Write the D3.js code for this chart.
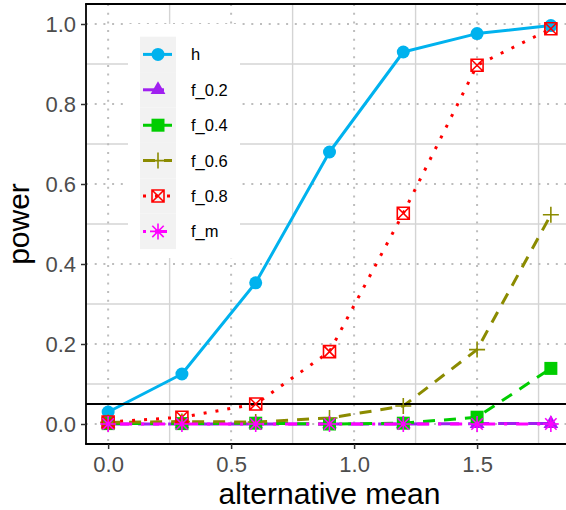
<!DOCTYPE html>
<html>
<head>
<meta charset="utf-8">
<script src="https://cdn.jsdelivr.net/npm/d3@7"></script>
<style>
  html, body { margin: 0; padding: 0; background: #fff; }
  svg { display: block; font-family: "Liberation Sans", Arial, sans-serif; }
</style>
</head>
<body>
<svg id="chart" width="566" height="510"></svg>
<script>
// ---- data ----
const xValues = [0, 0.3, 0.6, 0.9, 1.2, 1.5, 1.8];
const seriesNames = ["h", "f_0.2", "f_0.4", "f_0.6", "f_0.8", "f_m"];
const hValues   = [0.030, 0.125, 0.353, 0.680, 0.930, 0.976, 0.996];
const f02Values = [0.000, 0.000, 0.000, 0.000, 0.000, 0.001, 0.001];
const f04Values = [0.001, 0.001, 0.002, 0.000, 0.002, 0.017, 0.139];
const f06Values = [0.004, 0.006, 0.005, 0.015, 0.045, 0.186, 0.523];
const f08Values = [0.005, 0.017, 0.050, 0.181, 0.527, 0.897, 0.988];
const fmValues  = [0.000, 0.000, 0.000, 0.000, 0.000, 0.000, 0.000];
const xTicks = [0, 0.5, 1.0, 1.5];
const yTicks = [0, 0.2, 0.4, 0.6, 0.8, 1.0];
const xMinorTicks = [0.25, 0.75, 1.25, 1.75];
const yMinorTicks = [0.1, 0.3, 0.5, 0.7, 0.9];
const refLine = 0.05;
const xTitle = "alternative mean";
const yTitle = "power";

const allValues = [hValues, f02Values, f04Values, f06Values, f08Values, fmValues];

// ---- styles ----
const styles = {
  "h":     { color: "#00B2EE", dash: null,          shape: "circle" },
  "f_0.2": { color: "#A020F0", dash: "21,9",        shape: "triangle" },
  "f_0.4": { color: "#00CD00", dash: "12,9",        shape: "square" },
  "f_0.6": { color: "#8B8B00", dash: "12,9",        shape: "plus" },
  "f_0.8": { color: "#FF0000", dash: "3,9",         shape: "squarecross" },
  "f_m":   { color: "#FF00FF", dash: "3,9,12,9",    shape: "asterisk" }
};

const svg = d3.select("#chart");
const panel = { left: 86, top: 4, bottom: 444, right: 573 };

const x = d3.scaleLinear().domain([-0.09, 1.89]).range([panel.left, panel.right]);
const y = d3.scaleLinear().domain([-0.05, 1.05]).range([panel.bottom, panel.top]);

svg.append("defs").append("clipPath").attr("id", "clip")
  .append("rect").attr("x", panel.left).attr("y", panel.top)
  .attr("width", panel.right - panel.left).attr("height", panel.bottom - panel.top);

const g = svg.append("g");

// minor grid (solid)
g.selectAll(".vminor").data(xMinorTicks).enter().append("line")
  .attr("x1", d => x(d)).attr("x2", d => x(d))
  .attr("y1", panel.top).attr("y2", panel.bottom)
  .attr("stroke", "#d4d4d4").attr("stroke-width", 1.4);
g.selectAll(".hminor").data(yMinorTicks).enter().append("line")
  .attr("y1", d => y(d)).attr("y2", d => y(d))
  .attr("x1", panel.left).attr("x2", panel.right)
  .attr("stroke", "#d4d4d4").attr("stroke-width", 1.4);
// major grid (dotted)
g.selectAll(".vmajor").data(xTicks).enter().append("line")
  .attr("x1", d => x(d)).attr("x2", d => x(d))
  .attr("y1", panel.top).attr("y2", panel.bottom)
  .attr("stroke", "#bdbdbd").attr("stroke-width", 2).attr("stroke-dasharray", "2,6.7");
g.selectAll(".hmajor").data(yTicks).enter().append("line")
  .attr("y1", d => y(d)).attr("y2", d => y(d))
  .attr("x1", panel.left).attr("x2", panel.right)
  .attr("stroke", "#bdbdbd").attr("stroke-width", 2).attr("stroke-dasharray", "2,6.7");

// legend background (covers grid)
const legend = { x: 128, y: 24, w: 112, h: 234, keyX: 140, keyY: 36.7, keyW: 36, keyH: 35.4 };
g.append("rect").attr("x", legend.x).attr("y", legend.y).attr("width", legend.w).attr("height", legend.h)
  .attr("fill", "#ffffff");

const data = seriesNames.map((name, i) => ({
  name, values: xValues.map((xv, j) => ({ x: xv, y: allValues[i][j] }))
}));

const plot = svg.append("g").attr("clip-path", "url(#clip)");
const line = d3.line().x(d => x(d.x)).y(d => y(d.y));

data.forEach(s => {
  const st = styles[s.name];
  plot.append("path").datum(s.values)
    .attr("d", line).attr("fill", "none")
    .attr("stroke", st.color).attr("stroke-width", 3)
    .attr("stroke-dasharray", st.dash)
    .attr("stroke-linecap", "butt").attr("stroke-linejoin", "round");
});

// reference line
plot.append("line")
  .attr("x1", panel.left).attr("x2", panel.right)
  .attr("y1", y(refLine)).attr("y2", y(refLine))
  .attr("stroke", "#000").attr("stroke-width", 2);

function drawShape(sel, shape, color) {
  if (shape === "circle") {
    sel.append("circle").attr("r", 6.5).attr("fill", color);
  } else if (shape === "triangle") {
    sel.append("path").attr("d", d3.symbol(d3.symbolTriangle, 95)()).attr("fill", color);
  } else if (shape === "square") {
    sel.append("rect").attr("x", -6.5).attr("y", -6.5).attr("width", 13).attr("height", 13).attr("fill", color);
  } else if (shape === "plus") {
    sel.append("path").attr("d", "M-8,0H8M0,-8V8").attr("stroke", color).attr("stroke-width", 1.6).attr("fill", "none");
  } else if (shape === "squarecross") {
    sel.append("path").attr("d", "M-6,-6H6V6H-6Z M-6,-6L6,6 M6,-6L-6,6")
      .attr("stroke", color).attr("stroke-width", 1.6).attr("fill", "none");
  } else if (shape === "asterisk") {
    sel.append("path").attr("d", "M-8,0H8M0,-8V8M-5.7,-5.7L5.7,5.7M5.7,-5.7L-5.7,5.7")
      .attr("stroke", color).attr("stroke-width", 1.6).attr("fill", "none");
  }
}

data.forEach(s => {
  const st = styles[s.name];
  s.values.forEach(p => {
    const pg = svg.append("g").attr("transform", `translate(${x(p.x)},${y(p.y)})`);
    drawShape(pg, st.shape, st.color);
  });
});

// panel border: top, left, bottom
svg.append("line").attr("x1", panel.left).attr("x2", panel.left).attr("y1", panel.top).attr("y2", panel.bottom)
  .attr("stroke", "#000").attr("stroke-width", 1.8);
svg.append("line").attr("x1", panel.left - 0.9).attr("x2", panel.right).attr("y1", panel.bottom).attr("y2", panel.bottom)
  .attr("stroke", "#000").attr("stroke-width", 1.8);
svg.append("line").attr("x1", panel.left - 0.9).attr("x2", panel.right).attr("y1", panel.top).attr("y2", panel.top)
  .attr("stroke", "#000").attr("stroke-width", 1.8);

// axes
const xAxis = d3.axisBottom(x).tickValues(xTicks).tickFormat(d3.format(".1f")).tickSize(5).tickPadding(7);
const yAxis = d3.axisLeft(y).tickValues(yTicks).tickFormat(d3.format(".1f")).tickSize(5).tickPadding(5);

const xa = svg.append("g").attr("transform", `translate(0,${panel.bottom})`).call(xAxis);
const ya = svg.append("g").attr("transform", `translate(${panel.left},0)`).call(yAxis);
[xa, ya].forEach(a => {
  a.select(".domain").remove();
  a.selectAll(".tick line").attr("stroke", "#333").attr("stroke-width", 1.5);
  a.selectAll(".tick text").attr("fill", "#4D4D4D").attr("font-size", 22)
    .attr("font-family", "'Liberation Sans', Arial, sans-serif");
});

// titles
svg.append("text").attr("x", (panel.left + panel.right) / 2).attr("y", 504)
  .attr("text-anchor", "middle").attr("font-size", 30).attr("fill", "#000").text(xTitle);
svg.append("text").attr("transform", `translate(29,${(panel.top + panel.bottom) / 2}) rotate(-90)`)
  .attr("text-anchor", "middle").attr("font-size", 30).attr("fill", "#000").text(yTitle);

// legend keys
seriesNames.forEach((name, i) => {
  const st = styles[name];
  const ky = legend.keyY + i * legend.keyH;
  svg.append("rect").attr("x", legend.keyX).attr("y", ky).attr("width", legend.keyW).attr("height", legend.keyH)
    .attr("fill", "#F2F2F2");
  const cy = ky + legend.keyH / 2;
  svg.append("line").attr("x1", legend.keyX + 3).attr("x2", legend.keyX + legend.keyW - 4)
    .attr("y1", cy).attr("y2", cy)
    .attr("stroke", st.color).attr("stroke-width", 3).attr("stroke-dasharray", st.dash);
  const kg = svg.append("g").attr("transform", `translate(${legend.keyX + legend.keyW / 2},${cy})`);
  drawShape(kg, st.shape, st.color);
  svg.append("text").attr("x", 191).attr("y", cy + 6).attr("font-size", 16.5).attr("fill", "#000").text(name);
});
</script>
</body>
</html>
